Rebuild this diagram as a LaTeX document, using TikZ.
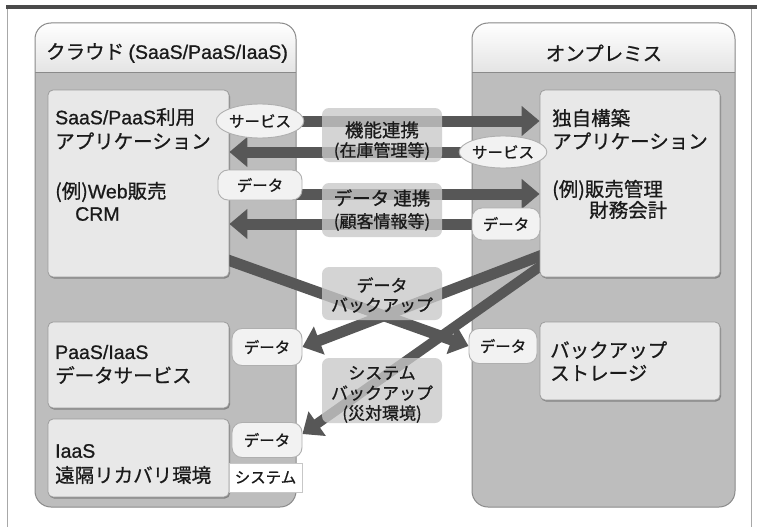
\documentclass[tikz,border=0pt]{standalone}
\usepackage{fontspec}
\setmainfont{Noto Sans CJK JP}[FakeBold=0.8]
\newfontfamily\lat{Liberation Sans}[FakeBold=0.8]
\usetikzlibrary{arrows.meta,shapes.geometric,calc,shadows}
\definecolor{topline}{HTML}{4A4A4A}
\definecolor{sidegray}{HTML}{A8A8A8}
\definecolor{contfill}{HTML}{BDBDBD}
\definecolor{contdraw}{HTML}{8A8A8A}
\definecolor{headfill}{HTML}{E4E4E4}
\definecolor{boxfill}{HTML}{E8E8E8}
\definecolor{boxdraw}{HTML}{9C9C9C}
\definecolor{arrowc}{HTML}{575757}
\definecolor{labfill}{HTML}{C8C8C8}
\definecolor{tagfill}{HTML}{F2F2F2}
\definecolor{tagdraw}{HTML}{AFAFAF}
\definecolor{txt}{HTML}{1A1A1A}
\pgfdeclarelayer{back}
\pgfdeclarelayer{mid}
\pgfsetlayers{back,mid,main}
\tikzset{
  container/.style={fill=contfill, inner sep=0pt, rounded corners=16pt},
  contborder/.style={draw=contdraw, line width=1pt, rounded corners=16pt},
  innerbox/.style={draw=boxdraw, fill=boxfill, rounded corners=5pt, inner sep=0pt, line width=0.8pt,
     drop shadow={shadow xshift=1pt, shadow yshift=-1.5pt, opacity=0.3, fill=black}},
  boxtxt/.style={anchor=west, inner sep=0pt, text=txt, font=\fontsize{19.5}{22}\selectfont},
  headtxt/.style={inner sep=0pt, text=txt, font=\fontsize{19.5}{22}\selectfont},
  tagtxt/.style={text=txt, font=\fontsize{15.5}{18}\selectfont, inner sep=0pt},
  svctag/.style={ellipse, draw=tagdraw, fill=tagfill, line width=0.9pt, inner sep=0pt, text=txt, font=\fontsize{15.5}{18}\selectfont},
  datatag/.style={rectangle, rounded corners=10pt, draw=tagdraw, fill=tagfill, line width=0.9pt, inner sep=0pt, text=txt, font=\fontsize{15.5}{18}\selectfont},
  midlab/.style={rectangle, rounded corners=7pt, fill=labfill, fill opacity=0.78, inner sep=0pt},
  midtxt/.style={inner sep=0pt, text=txt, font=\fontsize{17}{20}\selectfont},
  bigarrow/.style={draw=arrowc, line width=11pt, -{Triangle[length=18pt,width=29pt]}},
}
\begin{document}
\begin{tikzpicture}[x=1pt,y=-1pt]
\useasboundingbox (0,0) rectangle (757,527);
\begin{pgfonlayer}{back}
\fill[white] (0,0) rectangle (757,527);
\draw[sidegray, line width=1pt] (7,9) -- (7,527);
\draw[sidegray, line width=1pt] (751,9) -- (751,527);
\draw[topline, line width=4pt] (6,7) -- (757,7);
% containers
\node[container, minimum width=261pt, minimum height=484pt] (cloud) at (165.5,265) {};
\node[container, minimum width=263pt, minimum height=484pt] (onp) at (603.5,265) {};
\begin{scope}
\clip[rounded corners=16pt] (35,23) rectangle (296,507);
\shade[top color=white, bottom color=headfill] (35,23) rectangle (296,72);
\end{scope}
\begin{scope}
\clip[rounded corners=16pt] (472,23) rectangle (735,507);
\shade[top color=white, bottom color=headfill] (472,23) rectangle (735,72);
\end{scope}
\draw[contdraw, line width=1pt] (35,72) -- (296,72);
\draw[contdraw, line width=1pt] (472,72) -- (735,72);
\draw[contborder] (35,23) rectangle (296,507);
\draw[contborder] (472,23) rectangle (735,507);
\end{pgfonlayer}
\node[headtxt] (cloudhd) at (167,53) {クラウド {\lat(SaaS/PaaS/IaaS)}};
\node[headtxt] (onphd) at (604,53) {オンプレミス};
% inner boxes
\node[innerbox, minimum width=181pt, minimum height=187pt] (appL) at (138.5,183.5) {};
\node[innerbox, minimum width=181pt, minimum height=86pt] (paasL) at (138.5,365) {};
\node[innerbox, minimum width=181pt, minimum height=78pt] (iaasL) at (138.5,458) {};
\node[innerbox, minimum width=180pt, minimum height=187pt] (appR) at (630,183.5) {};
\node[innerbox, minimum width=180pt, minimum height=78pt] (storR) at (630,361) {};
% box texts
\node[boxtxt] (tA1) at (55,117) {{\lat SaaS/PaaS}利用};
\node[boxtxt] (tA2) at (55,141) {アプリケーション};
\node[boxtxt] (tA3) at (55,192) {(例){\lat Web}販売};
\node[boxtxt] (tA4) at (75,214) {{\lat CRM}};
\node[boxtxt] (tB1) at (55,352) {{\lat PaaS/IaaS}};
\node[boxtxt] (tB2) at (55,375) {データサービス};
\node[boxtxt] (tC1) at (55,451) {{\lat IaaS}};
\node[boxtxt] (tC2) at (55,475) {遠隔リカバリ環境};
\node[boxtxt] (tD1) at (552,118) {独自構築};
\node[boxtxt] (tD2) at (552,141) {アプリケーション};
\node[boxtxt] (tD3) at (552,190) {(例)販売管理};
\node[boxtxt] (tD4) at (589,210) {財務会計};
\node[boxtxt] (tE1) at (550,350) {バックアップ};
\node[boxtxt] (tE2) at (550,373) {ストレージ};
% tags
\node[svctag, minimum width=84pt, minimum height=34pt] (svcL) at (260,121) {サービス};
\node[svctag, minimum width=82pt, minimum height=32pt] (svcR) at (503,152) {サービス};
\node[datatag, minimum width=84pt, minimum height=30pt] (datL) at (260,185) {データ};
\node[datatag, minimum width=68pt, minimum height=32pt] (datR) at (506,224) {データ};
\node[datatag, minimum width=70pt, minimum height=37pt] (datL1) at (267,347) {データ};
\node[datatag, minimum width=70pt, minimum height=35pt] (datL2) at (267,440) {データ};
\node[datatag, minimum width=68pt, minimum height=35pt] (datRb) at (503,346) {データ};
\node[rectangle, draw=tagdraw!70, fill=white, line width=0.6pt, minimum width=73pt, minimum height=29pt, tagtxt] (sysL) at (265.5,477.5) {システム};
% arrows
\coordinate (a3s) at ([yshift=-9pt]datL.center);
\coordinate (d1s) at (225,259);
\coordinate (d2s) at (545,254);
\coordinate (d3s) at (545,263);
\begin{pgfonlayer}{mid}
\draw[bigarrow] (svcL.center) -- (svcL.center -| appR.west);
\draw[bigarrow] (svcR.center) -- (svcR.center -| appL.east);
\draw[bigarrow] (a3s) -- (a3s -| appR.west);
\draw[bigarrow] (datR.center) -- (datR.center -| appL.east);
\draw[bigarrow] (d1s) -- (datRb.west);
\draw[bigarrow] (d2s) -- (datL1.east);
\draw[bigarrow, line width=10pt] (d3s) -- ([yshift=6pt]datL2.east);
\end{pgfonlayer}
% middle labels
\node[midlab, minimum width=120pt, minimum height=54pt] (lab1) at (382,135) {};
\node[midtxt, font=\fontsize{18.5}{20}\selectfont] (lab1a) at (382,130) {機能連携};
\node[midtxt] (lab1b) at (382,151) {(在庫管理等)};
\node[midlab, minimum width=120pt, minimum height=54pt] (lab2) at (382,210) {};
\node[midtxt, font=\fontsize{18.5}{20}\selectfont] (lab2a) at (382,198) {データ 連携};
\node[midtxt] (lab2b) at (382,222) {(顧客情報等)};
\node[midlab, minimum width=120pt, minimum height=53pt] (lab3) at (382,293.5) {};
\node[midtxt] (lab3a) at (382,285) {データ};
\node[midtxt] (lab3b) at (382,305) {バックアップ};
\node[midlab, minimum width=120pt, minimum height=65pt] (lab4) at (382,390.5) {};
\node[midtxt] (lab4a) at (382,373) {システム};
\node[midtxt] (lab4b) at (382,393) {バックアップ};
\node[midtxt] (lab4c) at (382,414) {(災対環境)};
\end{tikzpicture}
\end{document}
